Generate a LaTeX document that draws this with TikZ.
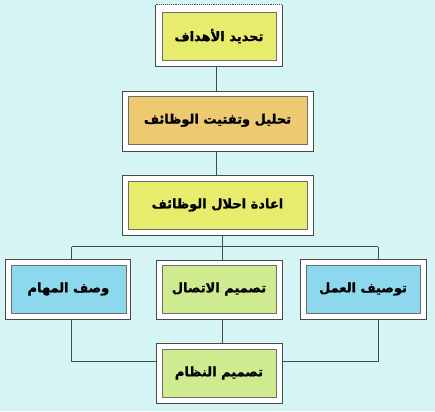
\documentclass[tikz,border=0pt]{standalone}
\usepackage{fontspec}
\newfontfamily\arabicfont[Script=Arabic, BoldFeatures={FakeBold=1.2}]{DejaVu Sans}
\TeXXeTstate=1
\definecolor{bg}{HTML}{D5F5F5}
\definecolor{cyel}{HTML}{E8EC6C}
\definecolor{corg}{HTML}{EDC972}
\definecolor{cgrn}{HTML}{CEEC8F}
\definecolor{cblu}{HTML}{8ED8EE}
\definecolor{edge}{HTML}{4A4A4A}
\tikzset{
  outerbox/.style={draw=edge, fill=white, line width=0.9pt, inner sep=0pt},
  innerbox/.style={draw=edge!80, fill=#1, line width=0.8pt, inner sep=0pt,
     font=\arabicfont\bfseries\fontsize{13}{15}\selectfont},
  conn/.style={draw=edge, line width=0.8pt},
}
\newcommand{\ar}[1]{\beginR #1\endR}
\begin{document}
\begin{tikzpicture}[x=1pt,y=-1pt]
\fill[bg] (0,0) rectangle (435,411);
\useasboundingbox (0,0) rectangle (435,411);
% boxes
\node[outerbox, draw=none, minimum width=126pt, minimum height=61pt] (o1) at (219,35.5) {};
\draw[edge, line width=0.9pt] (o1.north west) -- (o1.south west) -- (o1.south east) -- (o1.north east);
\draw[edge, line width=0.9pt, densely dotted] (o1.north west) -- (o1.north east);
\node[innerbox=cyel, minimum width=114pt, minimum height=48pt] (b1) at (219,36) {\ar{تحديد الأهداف}};
\node[outerbox, minimum width=191pt, minimum height=60pt] (o2) at (217.5,121) {};
\node[innerbox=corg, minimum width=179pt, minimum height=48.5pt] (b2) at (217.5,120.3) {\ar{تحليل وتفتيت الوظائف}};
\node[outerbox, minimum width=191pt, minimum height=60pt] (o3) at (217.5,205) {};
\node[innerbox=cyel, minimum width=179pt, minimum height=48pt] (b3) at (217.5,205) {\ar{اعادة احلال الوظائف}};
\node[outerbox, minimum width=125pt, minimum height=60pt] (oL) at (68.4,289) {};
\node[innerbox=cblu, minimum width=115pt, minimum height=48pt] (bL) at (68.4,289) {\ar{وصف المهام}};
\node[outerbox, minimum width=126pt, minimum height=59pt] (oM) at (219,289.5) {};
\node[innerbox=cgrn, minimum width=114pt, minimum height=48pt] (bM) at (219,289) {\ar{تصميم الاتصال}};
\node[outerbox, minimum width=126pt, minimum height=60pt] (oR) at (363,289) {};
\node[innerbox=cblu, minimum width=114pt, minimum height=48pt] (bR) at (363,289) {\ar{توصيف العمل}};
\node[outerbox, minimum width=126pt, minimum height=60pt] (oB) at (219,373) {};
\node[innerbox=cgrn, minimum width=114pt, minimum height=48pt] (bB) at (219,373) {\ar{تصميم النظام}};
% connector helpers
\coordinate (j) at (222.7,246.7);
\coordinate (jl) at (71.7,246.7);
\coordinate (jr) at (378,246.7);
\coordinate (ll) at (71.7,361);
\coordinate (rr) at (378,361);
% connectors
\draw[conn] (o1.south -| 216.7,0) -- (o2.north -| 216.7,0);
\draw[conn] (o2.south -| 216.7,0) -- (o3.north -| 216.7,0);
\draw[conn] (o3.south -| j) -- (j);
\draw[conn] (jl) -- (jr);
\draw[conn] (jl) -- (oL.north -| jl);
\draw[conn] (j) -- (oM.north -| j);
\draw[conn] (jr) -- (oR.north -| jr);
\draw[conn] (oL.south -| ll) -- (ll) -- (oB.west |- ll);
\draw[conn] (oR.south -| rr) -- (rr) -- (oB.east |- rr);
\draw[conn] (oM.south -| j) -- (oB.north -| j);
\end{tikzpicture}
\end{document}
